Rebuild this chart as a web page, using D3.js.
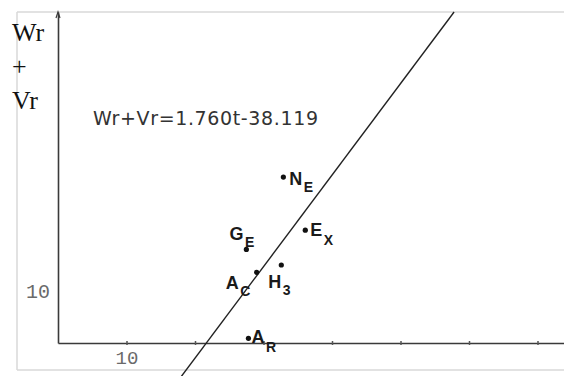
<!DOCTYPE html>
<html>
<head>
<meta charset="utf-8">
<script src="https://cdn.jsdelivr.net/npm/d3@7"></script>
<style>
  html, body { margin: 0; padding: 0; background: #fff; }
  svg { display: block; }
</style>
</head>
<body>
<script>
// Regression of Wr+Vr against t, with the labelled sample points
const slope = 1.760;
const intercept = -38.119;
const equationLabel = "Wr+Vr=1.760t-38.119";

const pointNames = ["N", "E", "G", "A", "H", "A"];
const pointSubs = ["E", "X", "E", "C", "3", "R"];
const pointT = [32.9, 36.1, 27.5, 29.0, 32.6, 27.8];
const pointW = [31.9, 21.7, 18.0, 13.6, 15.0, 0.9];

const xTicks = [10, 20, 30, 40, 50, 60, 70];
const xTickLabels = ["10", "", "", "", "", "", ""];
const yTicks = [10];
const yTickLabels = ["10"];

const W = 564, H = 376;
const svg = d3.select("body").append("svg").attr("width", W).attr("height", H);

const x = d3.scaleLinear().domain([0, 74]).range([58, 564.9]);
const y = d3.scaleLinear().domain([0, 63.65]).range([343, 12]);

// light outer frame
const frame = svg.append("g").attr("stroke", "#d8d8d8").attr("stroke-width", 1.5);
frame.append("line").attr("x1", 17).attr("x2", W).attr("y1", 12).attr("y2", 12);
frame.append("line").attr("x1", 17).attr("x2", 17).attr("y1", 12).attr("y2", 370);
frame.append("line").attr("x1", 17).attr("x2", W).attr("y1", 370).attr("y2", 370);

// axes
const xAxis = d3.axisBottom(x).tickValues(xTicks).tickSize(0)
  .tickFormat((d, i) => xTickLabels[i]).tickPadding(0);
const gx = svg.append("g").attr("transform", `translate(0,${y(0)})`).call(xAxis);
gx.select(".domain").attr("stroke", "#3a3a3a").attr("stroke-width", 1.6);
gx.selectAll(".tick").append("line").attr("y1", -2).attr("y2", 2)
  .attr("stroke", "#555").attr("stroke-width", 1.5);
gx.selectAll(".tick text").attr("fill", "#6a6a6a").attr("font-family", "'Liberation Mono', monospace")
  .attr("font-size", 19).attr("dy", null).attr("y", 21);

const yAxis = d3.axisLeft(y).tickValues(yTicks).tickSize(0)
  .tickFormat((d, i) => yTickLabels[i]).tickPadding(8);
const gy = svg.append("g").attr("transform", `translate(${x(0)},0)`).call(yAxis);
gy.select(".domain").attr("stroke", "#3a3a3a").attr("stroke-width", 1.6);
gy.selectAll(".tick text").attr("fill", "#6a6a6a").attr("font-family", "'Liberation Mono', monospace")
  .attr("font-size", 20);
// arrow tip at the top of the vertical axis
svg.append("path")
  .attr("d", `M${x(0) - 2},${y.range()[1] + 6} L${x(0)},${y.range()[1]} L${x(0) + 2},${y.range()[1] + 6}`)
  .attr("fill", "none").attr("stroke", "#3a3a3a").attr("stroke-width", 1.2);

// axis title, stacked
const title = svg.append("g").attr("font-family", "'Liberation Serif', 'Times New Roman', serif")
  .attr("font-size", 26).attr("fill", "#111");
title.append("text").attr("x", 12).attr("y", 41).text("Wr");
title.append("text").attr("x", 12).attr("y", 75).text("+");
title.append("text").attr("x", 12).attr("y", 109).text("Vr");

// regression line
const yLow = -7, yHigh = y.domain()[1];
const tLow = (yLow - intercept) / slope, tHigh = (yHigh - intercept) / slope;
svg.append("line")
  .attr("x1", x(tLow)).attr("y1", y(yLow))
  .attr("x2", x(tHigh)).attr("y2", y(yHigh))
  .attr("stroke", "#222").attr("stroke-width", 1.4);

// equation
svg.append("text").attr("x", 93).attr("y", 125)
  .attr("font-family", "'DejaVu Sans', Verdana, sans-serif").attr("font-size", 19)
  .attr("textLength", 225).attr("lengthAdjust", "spacing")
  .attr("fill", "#333").text(equationLabel);

// points and labels
const pts = pointT.map((t, i) => ({ t, w: pointW[i], name: pointNames[i], sub: pointSubs[i] }));
// label placement per point: [dx, dy] of the letter baseline, subscript drop
const labelOffsets = [[6, 8, 7], [5, 6, 9], [-17, -9, 7], [-31, 17, 7], [-13, 23, 7], [3, 5, 9]];

svg.append("g").selectAll("circle").data(pts).join("circle")
  .attr("cx", d => x(d.t)).attr("cy", d => y(d.w)).attr("r", 2.6).attr("fill", "#111");

const lbl = svg.append("g").attr("font-family", "'Liberation Sans', Arial, sans-serif")
  .attr("font-weight", "bold").attr("fill", "#1a1a1a");
pts.forEach((d, i) => {
  const t = lbl.append("text")
    .attr("x", x(d.t) + labelOffsets[i][0]).attr("y", y(d.w) + labelOffsets[i][1]);
  t.append("tspan").attr("font-size", 18).text(d.name);
  t.append("tspan").attr("font-size", 14).attr("dx", 1.5).attr("dy", labelOffsets[i][2]).text(d.sub);
});
</script>
</body>
</html>
